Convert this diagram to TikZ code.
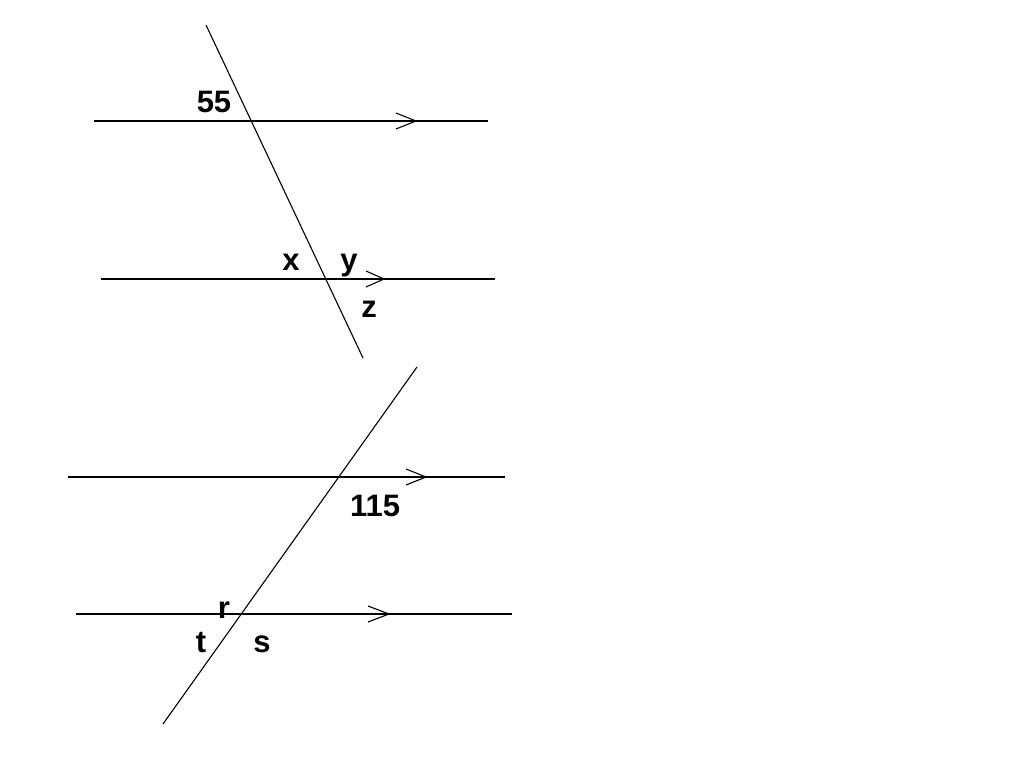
\documentclass[tikz,border=0pt]{standalone}
\usepackage{fontspec}
\setmainfont{Liberation Sans}
\begin{document}
\begin{tikzpicture}[x=1pt,y=-1pt,
  ln/.style={line width=1.1pt, black},
  lab/.style={anchor=base, inner sep=0pt, font=\fontsize{31}{31}\selectfont\bfseries},
  chev/.pic={\draw[ln] (-#1,-8) -- (0,0) -- (-#1,8);}]
\useasboundingbox (0,0) rectangle (1024,768);
% top figure
\coordinate (a1) at (94,121); \coordinate (a2) at (488,121);
\coordinate (b1) at (101,279); \coordinate (b2) at (495,279);
\coordinate (t1) at (206,25); \coordinate (t2) at (363,358);
\draw[ln] (a1) -- (a2);
\draw[ln] (b1) -- (b2);
\draw[ln] (t1) -- (t2);
\pic at (416,121) {chev=20};
\pic at (384,279) {chev=18};
\node[lab] (n55) at (214,112) {55};
\node[lab] (nx) at (291,270) {x};
\node[lab] (ny) at (349,270) {y};
\node[lab] (nz) at (369,317) {z};
% bottom figure
\coordinate (c1) at (68,477); \coordinate (c2) at (505,477);
\coordinate (d1) at (76,614); \coordinate (d2) at (512,614);
\coordinate (u1) at (417,367); \coordinate (u2) at (163,724);
\draw[ln] (c1) -- (c2);
\draw[ln] (d1) -- (d2);
\draw[ln] (u1) -- (u2);
\pic at (426,477) {chev=20};
\pic at (389,614) {chev=21};
\node[lab] (n115) at (375,516) {115};
\node[lab] (nr) at (224,618) {r};
\node[lab] (nt) at (201,652) {t};
\node[lab] (ns) at (262,652) {s};
\end{tikzpicture}
\end{document}
